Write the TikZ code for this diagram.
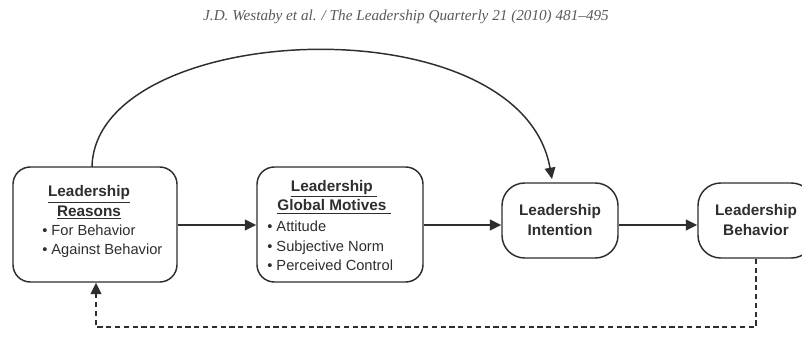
\documentclass[tikz,border=0pt]{standalone}
\usepackage{fontspec}
\setmainfont{Liberation Sans}
\newfontfamily\headfont{Liberation Serif}
\usetikzlibrary{arrows.meta}
\definecolor{ink}{HTML}{2E2E2E}
\begin{document}
\begin{tikzpicture}[x=0.75pt,y=-0.75pt,
  box/.style={draw=ink, line width=1.1pt, inner sep=0pt},
  bigbox/.style={box, rounded corners=13pt, minimum height=86.25pt},
  smallbox/.style={box, rounded corners=17pt, minimum width=87pt, minimum height=56.25pt,
     align=center, font=\bfseries\fontsize{11.5}{15}\selectfont, text=ink},
  ttl/.style={align=center, inner sep=0pt, text=ink, font=\bfseries\fontsize{11.5}{14.5}\selectfont},
  blt/.style={align=left, inner sep=0pt, text=ink, font=\fontsize{11}{14.6}\selectfont, anchor=west},
  link/.style={draw=ink, line width=1.3pt, -{Triangle[length=8.5pt,width=8pt]}},
  fb/.style={link, line width=1.1pt, dash pattern=on 4pt off 2.6pt}
]
\useasboundingbox (0,0) rectangle (802,356);
\clip (0,0) rectangle (802,356);

\node[font=\headfont\itshape\fontsize{11.4}{13}\selectfont, text=black!65] (head) at (406,17)
  {J.D. Westaby et al. / The Leadership Quarterly 21 (2010) 481–495};

% boxes
\node[bigbox, minimum width=123pt] (reasons) at (95,224.5) {};
\node[bigbox, minimum width=124.5pt] (motives) at (340,224.5) {};
\node[smallbox] (intention) at (560,220.5) {Leadership\\Intention};
\node[smallbox] (behavior) at (756,220.5) {Leadership\\Behavior};

% box texts
\node[ttl] (rt) at (89,202.5) {\underline{Leadership}\\\underline{Reasons}};
\node[blt] (rb) at (42,241) {• For Behavior\\• Against Behavior};
\node[ttl] (mt) at (334,197) {\underline{Leadership\ }\\\underline{Global Motives\ }};
\node[blt] (mb) at (267,246) {• Attitude\\• Subjective Norm\\• Perceived Control};

% connectors
\coordinate (ay) at (0,225);
\draw[link] (reasons.east |- ay) -- (motives.west |- ay);
\draw[link] (motives.east |- ay) -- (intention.west |- ay);
\draw[link] (intention.east |- ay) -- (behavior.west |- ay);

\coordinate (cs) at (92,167);
\coordinate (ce) at (552,179);
\draw[link, line width=1.1pt] (cs) .. controls (95,20) and (520,0) .. (ce);

\coordinate (fb1) at (756,327);
\coordinate (fb2) at (96,327);
\draw[fb] (behavior.south) -- (fb1) -- (fb2) -- (fb2 |- reasons.south);
\end{tikzpicture}
\end{document}
